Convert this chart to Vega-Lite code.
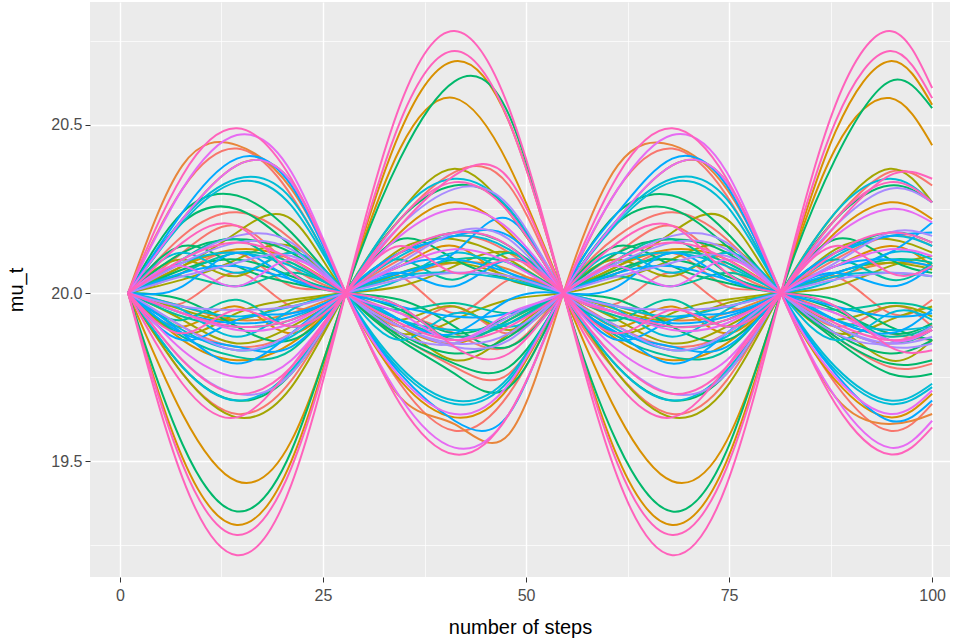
{
"$schema":"https://vega.github.io/schema/vega-lite/v6.json",
"width":860,"height":575,
"autosize":{"type":"none"},
"padding":{"left":90,"top":2,"right":19,"bottom":66},
"background":"white",
"config":{"view":{"fill":"#EBEBEB","stroke":null},"font":"Liberation Sans",
"axis":{"labelColor":"#4D4D4D","labelFontSize":16,"tickColor":"#333333","tickSize":5,"tickWidth":1,"domain":false,"gridColor":"#FFFFFF","gridWidth":1.4,"titleColor":"#000000","titleFontSize":20,"titleFontWeight":"normal","labelPadding":5}},
"data":{"values":[
{"g":1,"x":1,"y":20},{"g":1,"x":7.7,"y":20.31},{"g":1,"x":14.4,"y":20.43},{"g":1,"x":21.1,"y":20.29},{"g":1,"x":27.8,"y":20},{"g":1,"x":34.5,"y":19.73},{"g":1,"x":41.2,"y":19.59},{"g":1,"x":47.9,"y":19.70},{"g":1,"x":54.6,"y":20},{"g":1,"x":61.3,"y":20.31},{"g":1,"x":68,"y":20.43},{"g":1,"x":74.7,"y":20.29},{"g":1,"x":81.4,"y":20},{"g":1,"x":88.1,"y":19.73},{"g":1,"x":94.8,"y":19.59},{"g":1,"x":100,"y":19.67},
{"g":2,"x":1,"y":20},{"g":2,"x":7.7,"y":20.17},{"g":2,"x":14.4,"y":20.24},{"g":2,"x":21.1,"y":20.16},{"g":2,"x":27.8,"y":20},{"g":2,"x":34.5,"y":19.87},{"g":2,"x":41.2,"y":19.78},{"g":2,"x":47.9,"y":19.76},{"g":2,"x":54.6,"y":20},{"g":2,"x":61.3,"y":20.17},{"g":2,"x":68,"y":20.24},{"g":2,"x":74.7,"y":20.16},{"g":2,"x":81.4,"y":20},{"g":2,"x":88.1,"y":19.87},{"g":2,"x":94.8,"y":19.78},{"g":2,"x":100,"y":19.79},
{"g":3,"x":1,"y":20},{"g":3,"x":7.7,"y":19.76},{"g":3,"x":14.4,"y":19.64},{"g":3,"x":21.1,"y":19.74},{"g":3,"x":27.8,"y":20},{"g":3,"x":34.5,"y":20.22},{"g":3,"x":41.2,"y":20.36},{"g":3,"x":47.9,"y":20.32},{"g":3,"x":54.6,"y":20},{"g":3,"x":61.3,"y":19.76},{"g":3,"x":68,"y":19.64},{"g":3,"x":74.7,"y":19.74},{"g":3,"x":81.4,"y":20},{"g":3,"x":88.1,"y":20.22},{"g":3,"x":94.8,"y":20.36},{"g":3,"x":100,"y":20.32},
{"g":4,"x":1,"y":20},{"g":4,"x":7.7,"y":20.12},{"g":4,"x":14.4,"y":20.20},{"g":4,"x":21.1,"y":20.08},{"g":4,"x":27.8,"y":20},{"g":4,"x":34.5,"y":19.94},{"g":4,"x":41.2,"y":19.88},{"g":4,"x":47.9,"y":19.84},{"g":4,"x":54.6,"y":20},{"g":4,"x":61.3,"y":20.12},{"g":4,"x":68,"y":20.20},{"g":4,"x":74.7,"y":20.08},{"g":4,"x":81.4,"y":20},{"g":4,"x":88.1,"y":19.94},{"g":4,"x":94.8,"y":19.88},{"g":4,"x":100,"y":19.86},
{"g":5,"x":1,"y":20},{"g":5,"x":7.7,"y":19.90},{"g":5,"x":14.4,"y":19.84},{"g":5,"x":21.1,"y":19.88},{"g":5,"x":27.8,"y":20},{"g":5,"x":34.5,"y":20.10},{"g":5,"x":41.2,"y":20.17},{"g":5,"x":47.9,"y":20.12},{"g":5,"x":54.6,"y":20},{"g":5,"x":61.3,"y":19.90},{"g":5,"x":68,"y":19.84},{"g":5,"x":74.7,"y":19.88},{"g":5,"x":81.4,"y":20},{"g":5,"x":88.1,"y":20.10},{"g":5,"x":94.8,"y":20.17},{"g":5,"x":100,"y":20.14},
{"g":70,"x":1,"y":20},{"g":70,"x":7.7,"y":19.97},{"g":70,"x":14.4,"y":20.06},{"g":70,"x":21.1,"y":19.96},{"g":70,"x":27.8,"y":20},{"g":70,"x":34.5,"y":20.05},{"g":70,"x":41.2,"y":19.94},{"g":70,"x":47.9,"y":20.04},{"g":70,"x":54.6,"y":20},{"g":70,"x":61.3,"y":19.97},{"g":70,"x":68,"y":20.06},{"g":70,"x":74.7,"y":19.96},{"g":70,"x":81.4,"y":20},{"g":70,"x":88.1,"y":20.05},{"g":70,"x":94.8,"y":19.94},{"g":70,"x":100,"y":19.98},
{"g":54,"x":1,"y":20},{"g":54,"x":7.7,"y":20.06},{"g":54,"x":14.4,"y":20.12},{"g":54,"x":21.1,"y":20.02},{"g":54,"x":27.8,"y":20},{"g":54,"x":34.5,"y":19.90},{"g":54,"x":41.2,"y":19.96},{"g":54,"x":47.9,"y":19.88},{"g":54,"x":54.6,"y":20},{"g":54,"x":61.3,"y":20.06},{"g":54,"x":68,"y":20.12},{"g":54,"x":74.7,"y":20.02},{"g":54,"x":81.4,"y":20},{"g":54,"x":88.1,"y":19.90},{"g":54,"x":94.8,"y":19.96},{"g":54,"x":100,"y":19.90},
{"g":6,"x":1,"y":20},{"g":6,"x":7.7,"y":20.38},{"g":6,"x":14.4,"y":20.44},{"g":6,"x":21.1,"y":20.31},{"g":6,"x":27.8,"y":20},{"g":6,"x":34.5,"y":19.69},{"g":6,"x":41.2,"y":19.61},{"g":6,"x":47.9,"y":19.58},{"g":6,"x":54.6,"y":20},{"g":6,"x":61.3,"y":20.38},{"g":6,"x":68,"y":20.44},{"g":6,"x":74.7,"y":20.31},{"g":6,"x":81.4,"y":20},{"g":6,"x":88.1,"y":19.69},{"g":6,"x":94.8,"y":19.61},{"g":6,"x":100,"y":19.64},
{"g":7,"x":1,"y":20},{"g":7,"x":7.7,"y":19.96},{"g":7,"x":14.4,"y":19.92},{"g":7,"x":21.1,"y":19.94},{"g":7,"x":27.8,"y":20},{"g":7,"x":34.5,"y":20.05},{"g":7,"x":41.2,"y":20.09},{"g":7,"x":47.9,"y":20.07},{"g":7,"x":54.6,"y":20},{"g":7,"x":61.3,"y":19.96},{"g":7,"x":68,"y":19.92},{"g":7,"x":74.7,"y":19.94},{"g":7,"x":81.4,"y":20},{"g":7,"x":88.1,"y":20.05},{"g":7,"x":94.8,"y":20.09},{"g":7,"x":100,"y":20.08},
{"g":8,"x":1,"y":20},{"g":8,"x":7.7,"y":19.51},{"g":8,"x":14.4,"y":19.31},{"g":8,"x":21.1,"y":19.50},{"g":8,"x":27.8,"y":20},{"g":8,"x":34.5,"y":20.48},{"g":8,"x":41.2,"y":20.69},{"g":8,"x":47.9,"y":20.51},{"g":8,"x":54.6,"y":20},{"g":8,"x":61.3,"y":19.51},{"g":8,"x":68,"y":19.31},{"g":8,"x":74.7,"y":19.50},{"g":8,"x":81.4,"y":20},{"g":8,"x":88.1,"y":20.48},{"g":8,"x":94.8,"y":20.69},{"g":8,"x":100,"y":20.56},
{"g":9,"x":1,"y":20},{"g":9,"x":7.7,"y":19.64},{"g":9,"x":14.4,"y":19.44},{"g":9,"x":21.1,"y":19.56},{"g":9,"x":27.8,"y":20},{"g":9,"x":34.5,"y":20.43},{"g":9,"x":41.2,"y":20.58},{"g":9,"x":47.9,"y":20.38},{"g":9,"x":54.6,"y":20},{"g":9,"x":61.3,"y":19.64},{"g":9,"x":68,"y":19.44},{"g":9,"x":74.7,"y":19.56},{"g":9,"x":81.4,"y":20},{"g":9,"x":88.1,"y":20.43},{"g":9,"x":94.8,"y":20.58},{"g":9,"x":100,"y":20.44},
{"g":10,"x":1,"y":20},{"g":10,"x":7.7,"y":20.22},{"g":10,"x":14.4,"y":20.38},{"g":10,"x":21.1,"y":20.33},{"g":10,"x":27.8,"y":20},{"g":10,"x":34.5,"y":19.74},{"g":10,"x":41.2,"y":19.63},{"g":10,"x":47.9,"y":19.72},{"g":10,"x":54.6,"y":20},{"g":10,"x":61.3,"y":20.22},{"g":10,"x":68,"y":20.38},{"g":10,"x":74.7,"y":20.33},{"g":10,"x":81.4,"y":20},{"g":10,"x":88.1,"y":19.74},{"g":10,"x":94.8,"y":19.63},{"g":10,"x":100,"y":19.70},
{"g":11,"x":1,"y":20},{"g":11,"x":7.7,"y":19.86},{"g":11,"x":14.4,"y":19.80},{"g":11,"x":21.1,"y":19.85},{"g":11,"x":27.8,"y":20},{"g":11,"x":34.5,"y":20.18},{"g":11,"x":41.2,"y":20.27},{"g":11,"x":47.9,"y":20.18},{"g":11,"x":54.6,"y":20},{"g":11,"x":61.3,"y":19.86},{"g":11,"x":68,"y":19.80},{"g":11,"x":74.7,"y":19.85},{"g":11,"x":81.4,"y":20},{"g":11,"x":88.1,"y":20.18},{"g":11,"x":94.8,"y":20.27},{"g":11,"x":100,"y":20.22},
{"g":12,"x":1,"y":20},{"g":12,"x":7.7,"y":20.08},{"g":12,"x":14.4,"y":20.13},{"g":12,"x":21.1,"y":20.10},{"g":12,"x":27.8,"y":20},{"g":12,"x":34.5,"y":19.90},{"g":12,"x":41.2,"y":19.85},{"g":12,"x":47.9,"y":19.92},{"g":12,"x":54.6,"y":20},{"g":12,"x":61.3,"y":20.08},{"g":12,"x":68,"y":20.13},{"g":12,"x":74.7,"y":20.10},{"g":12,"x":81.4,"y":20},{"g":12,"x":88.1,"y":19.90},{"g":12,"x":94.8,"y":19.85},{"g":12,"x":100,"y":19.90},
{"g":55,"x":1,"y":20},{"g":55,"x":7.7,"y":19.90},{"g":55,"x":14.4,"y":19.96},{"g":55,"x":21.1,"y":19.88},{"g":55,"x":27.8,"y":20},{"g":55,"x":34.5,"y":20.08},{"g":55,"x":41.2,"y":20.14},{"g":55,"x":47.9,"y":20.04},{"g":55,"x":54.6,"y":20},{"g":55,"x":61.3,"y":19.90},{"g":55,"x":68,"y":19.96},{"g":55,"x":74.7,"y":19.88},{"g":55,"x":81.4,"y":20},{"g":55,"x":88.1,"y":20.08},{"g":55,"x":94.8,"y":20.14},{"g":55,"x":100,"y":20.08},
{"g":13,"x":1,"y":20},{"g":13,"x":7.7,"y":19.76},{"g":13,"x":14.4,"y":19.63},{"g":13,"x":21.1,"y":19.72},{"g":13,"x":27.8,"y":20},{"g":13,"x":34.5,"y":20.24},{"g":13,"x":41.2,"y":20.37},{"g":13,"x":47.9,"y":20.24},{"g":13,"x":54.6,"y":20},{"g":13,"x":61.3,"y":19.76},{"g":13,"x":68,"y":19.63},{"g":13,"x":74.7,"y":19.72},{"g":13,"x":81.4,"y":20},{"g":13,"x":88.1,"y":20.24},{"g":13,"x":94.8,"y":20.37},{"g":13,"x":100,"y":20.27},
{"g":14,"x":1,"y":20},{"g":14,"x":7.7,"y":20.08},{"g":14,"x":14.4,"y":20.18},{"g":14,"x":21.1,"y":20.22},{"g":14,"x":27.8,"y":20},{"g":14,"x":34.5,"y":19.90},{"g":14,"x":41.2,"y":19.80},{"g":14,"x":47.9,"y":19.88},{"g":14,"x":54.6,"y":20},{"g":14,"x":61.3,"y":20.08},{"g":14,"x":68,"y":20.18},{"g":14,"x":74.7,"y":20.22},{"g":14,"x":81.4,"y":20},{"g":14,"x":88.1,"y":19.90},{"g":14,"x":94.8,"y":19.80},{"g":14,"x":100,"y":19.86},
{"g":15,"x":1,"y":20},{"g":15,"x":7.7,"y":19.95},{"g":15,"x":14.4,"y":19.92},{"g":15,"x":21.1,"y":19.97},{"g":15,"x":27.8,"y":20},{"g":15,"x":34.5,"y":20.06},{"g":15,"x":41.2,"y":20.09},{"g":15,"x":47.9,"y":20.05},{"g":15,"x":54.6,"y":20},{"g":15,"x":61.3,"y":19.95},{"g":15,"x":68,"y":19.92},{"g":15,"x":74.7,"y":19.97},{"g":15,"x":81.4,"y":20},{"g":15,"x":88.1,"y":20.06},{"g":15,"x":94.8,"y":20.09},{"g":15,"x":100,"y":20.07},
{"g":16,"x":1,"y":20},{"g":16,"x":7.7,"y":20.10},{"g":16,"x":14.4,"y":20.05},{"g":16,"x":21.1,"y":20.12},{"g":16,"x":27.8,"y":20},{"g":16,"x":34.5,"y":19.92},{"g":16,"x":41.2,"y":19.96},{"g":16,"x":47.9,"y":19.89},{"g":16,"x":54.6,"y":20},{"g":16,"x":61.3,"y":20.10},{"g":16,"x":68,"y":20.05},{"g":16,"x":74.7,"y":20.12},{"g":16,"x":81.4,"y":20},{"g":16,"x":88.1,"y":19.92},{"g":16,"x":94.8,"y":19.96},{"g":16,"x":100,"y":19.93},
{"g":17,"x":1,"y":20},{"g":17,"x":7.7,"y":19.92},{"g":17,"x":14.4,"y":19.85},{"g":17,"x":21.1,"y":19.90},{"g":17,"x":27.8,"y":20},{"g":17,"x":34.5,"y":20.13},{"g":17,"x":41.2,"y":20.16},{"g":17,"x":47.9,"y":20.10},{"g":17,"x":54.6,"y":20},{"g":17,"x":61.3,"y":19.92},{"g":17,"x":68,"y":19.85},{"g":17,"x":74.7,"y":19.90},{"g":17,"x":81.4,"y":20},{"g":17,"x":88.1,"y":20.13},{"g":17,"x":94.8,"y":20.16},{"g":17,"x":100,"y":20.12},
{"g":56,"x":1,"y":20},{"g":56,"x":7.7,"y":20.04},{"g":56,"x":14.4,"y":20.10},{"g":56,"x":21.1,"y":20.14},{"g":56,"x":27.8,"y":20},{"g":56,"x":34.5,"y":19.88},{"g":56,"x":41.2,"y":19.92},{"g":56,"x":47.9,"y":19.98},{"g":56,"x":54.6,"y":20},{"g":56,"x":61.3,"y":20.04},{"g":56,"x":68,"y":20.10},{"g":56,"x":74.7,"y":20.14},{"g":56,"x":81.4,"y":20},{"g":56,"x":88.1,"y":19.88},{"g":56,"x":94.8,"y":19.92},{"g":56,"x":100,"y":19.96},
{"g":57,"x":1,"y":20},{"g":57,"x":7.7,"y":19.88},{"g":57,"x":14.4,"y":19.94},{"g":57,"x":21.1,"y":19.98},{"g":57,"x":27.8,"y":20},{"g":57,"x":34.5,"y":20.02},{"g":57,"x":41.2,"y":20.08},{"g":57,"x":47.9,"y":20.12},{"g":57,"x":54.6,"y":20},{"g":57,"x":61.3,"y":19.88},{"g":57,"x":68,"y":19.94},{"g":57,"x":74.7,"y":19.98},{"g":57,"x":81.4,"y":20},{"g":57,"x":88.1,"y":20.02},{"g":57,"x":94.8,"y":20.08},{"g":57,"x":100,"y":20.11},
{"g":18,"x":1,"y":20},{"g":18,"x":7.7,"y":19.55},{"g":18,"x":14.4,"y":19.35},{"g":18,"x":21.1,"y":19.53},{"g":18,"x":27.8,"y":20},{"g":18,"x":34.5,"y":20.40},{"g":18,"x":41.2,"y":20.63},{"g":18,"x":47.9,"y":20.53},{"g":18,"x":54.6,"y":20},{"g":18,"x":61.3,"y":19.55},{"g":18,"x":68,"y":19.35},{"g":18,"x":74.7,"y":19.53},{"g":18,"x":81.4,"y":20},{"g":18,"x":88.1,"y":20.40},{"g":18,"x":94.8,"y":20.63},{"g":18,"x":100,"y":20.55},
{"g":19,"x":1,"y":20},{"g":19,"x":7.7,"y":20.24},{"g":19,"x":14.4,"y":20.29},{"g":19,"x":21.1,"y":20.18},{"g":19,"x":27.8,"y":20},{"g":19,"x":34.5,"y":19.86},{"g":19,"x":41.2,"y":19.76},{"g":19,"x":47.9,"y":19.72},{"g":19,"x":54.6,"y":20},{"g":19,"x":61.3,"y":20.24},{"g":19,"x":68,"y":20.29},{"g":19,"x":74.7,"y":20.18},{"g":19,"x":81.4,"y":20},{"g":19,"x":88.1,"y":19.86},{"g":19,"x":94.8,"y":19.76},{"g":19,"x":100,"y":19.76},
{"g":20,"x":1,"y":20},{"g":20,"x":7.7,"y":20.21},{"g":20,"x":14.4,"y":20.25},{"g":20,"x":21.1,"y":20.14},{"g":20,"x":27.8,"y":20},{"g":20,"x":34.5,"y":19.87},{"g":20,"x":41.2,"y":19.79},{"g":20,"x":47.9,"y":19.78},{"g":20,"x":54.6,"y":20},{"g":20,"x":61.3,"y":20.21},{"g":20,"x":68,"y":20.25},{"g":20,"x":74.7,"y":20.14},{"g":20,"x":81.4,"y":20},{"g":20,"x":88.1,"y":19.87},{"g":20,"x":94.8,"y":19.79},{"g":20,"x":100,"y":19.80},
{"g":21,"x":1,"y":20},{"g":21,"x":7.7,"y":19.78},{"g":21,"x":14.4,"y":19.68},{"g":21,"x":21.1,"y":19.76},{"g":21,"x":27.8,"y":20},{"g":21,"x":34.5,"y":20.22},{"g":21,"x":41.2,"y":20.32},{"g":21,"x":47.9,"y":20.25},{"g":21,"x":54.6,"y":20},{"g":21,"x":61.3,"y":19.78},{"g":21,"x":68,"y":19.68},{"g":21,"x":74.7,"y":19.76},{"g":21,"x":81.4,"y":20},{"g":21,"x":88.1,"y":20.22},{"g":21,"x":94.8,"y":20.32},{"g":21,"x":100,"y":20.27},
{"g":22,"x":1,"y":20},{"g":22,"x":7.7,"y":20.12},{"g":22,"x":14.4,"y":20.16},{"g":22,"x":21.1,"y":20.12},{"g":22,"x":27.8,"y":20},{"g":22,"x":34.5,"y":19.88},{"g":22,"x":41.2,"y":19.82},{"g":22,"x":47.9,"y":19.87},{"g":22,"x":54.6,"y":20},{"g":22,"x":61.3,"y":20.12},{"g":22,"x":68,"y":20.16},{"g":22,"x":74.7,"y":20.12},{"g":22,"x":81.4,"y":20},{"g":22,"x":88.1,"y":19.88},{"g":22,"x":94.8,"y":19.82},{"g":22,"x":100,"y":19.86},
{"g":23,"x":1,"y":20},{"g":23,"x":7.7,"y":20.07},{"g":23,"x":14.4,"y":20.10},{"g":23,"x":21.1,"y":20.05},{"g":23,"x":27.8,"y":20},{"g":23,"x":34.5,"y":19.95},{"g":23,"x":41.2,"y":19.88},{"g":23,"x":47.9,"y":19.93},{"g":23,"x":54.6,"y":20},{"g":23,"x":61.3,"y":20.07},{"g":23,"x":68,"y":20.10},{"g":23,"x":74.7,"y":20.05},{"g":23,"x":81.4,"y":20},{"g":23,"x":88.1,"y":19.95},{"g":23,"x":94.8,"y":19.88},{"g":23,"x":100,"y":19.91},
{"g":58,"x":1,"y":20},{"g":58,"x":7.7,"y":20.14},{"g":58,"x":14.4,"y":20.08},{"g":58,"x":21.1,"y":20.03},{"g":58,"x":27.8,"y":20},{"g":58,"x":34.5,"y":19.98},{"g":58,"x":41.2,"y":19.90},{"g":58,"x":47.9,"y":19.84},{"g":58,"x":54.6,"y":20},{"g":58,"x":61.3,"y":20.14},{"g":58,"x":68,"y":20.08},{"g":58,"x":74.7,"y":20.03},{"g":58,"x":81.4,"y":20},{"g":58,"x":88.1,"y":19.98},{"g":58,"x":94.8,"y":19.90},{"g":58,"x":100,"y":19.86},
{"g":59,"x":1,"y":20},{"g":59,"x":7.7,"y":19.98},{"g":59,"x":14.4,"y":19.90},{"g":59,"x":21.1,"y":19.86},{"g":59,"x":27.8,"y":20},{"g":59,"x":34.5,"y":20.16},{"g":59,"x":41.2,"y":20.10},{"g":59,"x":47.9,"y":20.04},{"g":59,"x":54.6,"y":20},{"g":59,"x":61.3,"y":19.98},{"g":59,"x":68,"y":19.90},{"g":59,"x":74.7,"y":19.86},{"g":59,"x":81.4,"y":20},{"g":59,"x":88.1,"y":20.16},{"g":59,"x":94.8,"y":20.10},{"g":59,"x":100,"y":20.06},
{"g":24,"x":1,"y":20},{"g":24,"x":7.7,"y":19.87},{"g":24,"x":14.4,"y":19.81},{"g":24,"x":21.1,"y":19.83},{"g":24,"x":27.8,"y":20},{"g":24,"x":34.5,"y":20.12},{"g":24,"x":41.2,"y":20.18},{"g":24,"x":47.9,"y":20.14},{"g":24,"x":54.6,"y":20},{"g":24,"x":61.3,"y":19.87},{"g":24,"x":68,"y":19.81},{"g":24,"x":74.7,"y":19.83},{"g":24,"x":81.4,"y":20},{"g":24,"x":88.1,"y":20.12},{"g":24,"x":94.8,"y":20.18},{"g":24,"x":100,"y":20.15},
{"g":25,"x":1,"y":20},{"g":25,"x":7.7,"y":19.93},{"g":25,"x":14.4,"y":19.90},{"g":25,"x":21.1,"y":19.92},{"g":25,"x":27.8,"y":20},{"g":25,"x":34.5,"y":20.06},{"g":25,"x":41.2,"y":20.10},{"g":25,"x":47.9,"y":20.09},{"g":25,"x":54.6,"y":20},{"g":25,"x":61.3,"y":19.93},{"g":25,"x":68,"y":19.90},{"g":25,"x":74.7,"y":19.92},{"g":25,"x":81.4,"y":20},{"g":25,"x":88.1,"y":20.06},{"g":25,"x":94.8,"y":20.10},{"g":25,"x":100,"y":20.09},
{"g":26,"x":1,"y":20},{"g":26,"x":7.7,"y":20.05},{"g":26,"x":14.4,"y":20.02},{"g":26,"x":21.1,"y":20.06},{"g":26,"x":27.8,"y":20},{"g":26,"x":34.5,"y":19.95},{"g":26,"x":41.2,"y":19.97},{"g":26,"x":47.9,"y":19.94},{"g":26,"x":54.6,"y":20},{"g":26,"x":61.3,"y":20.05},{"g":26,"x":68,"y":20.02},{"g":26,"x":74.7,"y":20.06},{"g":26,"x":81.4,"y":20},{"g":26,"x":88.1,"y":19.95},{"g":26,"x":94.8,"y":19.97},{"g":26,"x":100,"y":19.95},
{"g":27,"x":1,"y":20},{"g":27,"x":7.7,"y":20.06},{"g":27,"x":14.4,"y":20.12},{"g":27,"x":21.1,"y":20.09},{"g":27,"x":27.8,"y":20},{"g":27,"x":34.5,"y":19.92},{"g":27,"x":41.2,"y":19.87},{"g":27,"x":47.9,"y":19.91},{"g":27,"x":54.6,"y":20},{"g":27,"x":61.3,"y":20.06},{"g":27,"x":68,"y":20.12},{"g":27,"x":74.7,"y":20.09},{"g":27,"x":81.4,"y":20},{"g":27,"x":88.1,"y":19.92},{"g":27,"x":94.8,"y":19.87},{"g":27,"x":100,"y":19.90},
{"g":60,"x":1,"y":20},{"g":60,"x":7.7,"y":20.10},{"g":60,"x":14.4,"y":20.16},{"g":60,"x":21.1,"y":20.06},{"g":60,"x":27.8,"y":20},{"g":60,"x":34.5,"y":19.96},{"g":60,"x":41.2,"y":19.86},{"g":60,"x":47.9,"y":19.92},{"g":60,"x":54.6,"y":20},{"g":60,"x":61.3,"y":20.10},{"g":60,"x":68,"y":20.16},{"g":60,"x":74.7,"y":20.06},{"g":60,"x":81.4,"y":20},{"g":60,"x":88.1,"y":19.96},{"g":60,"x":94.8,"y":19.86},{"g":60,"x":100,"y":19.89},
{"g":61,"x":1,"y":20},{"g":61,"x":7.7,"y":19.92},{"g":61,"x":14.4,"y":19.98},{"g":61,"x":21.1,"y":19.90},{"g":61,"x":27.8,"y":20},{"g":61,"x":34.5,"y":20.10},{"g":61,"x":41.2,"y":20.04},{"g":61,"x":47.9,"y":20.12},{"g":61,"x":54.6,"y":20},{"g":61,"x":61.3,"y":19.92},{"g":61,"x":68,"y":19.98},{"g":61,"x":74.7,"y":19.90},{"g":61,"x":81.4,"y":20},{"g":61,"x":88.1,"y":20.10},{"g":61,"x":94.8,"y":20.04},{"g":61,"x":100,"y":20.09},
{"g":28,"x":1,"y":20},{"g":28,"x":7.7,"y":20.22},{"g":28,"x":14.4,"y":20.34},{"g":28,"x":21.1,"y":20.28},{"g":28,"x":27.8,"y":20},{"g":28,"x":34.5,"y":19.77},{"g":28,"x":41.2,"y":19.67},{"g":28,"x":47.9,"y":19.74},{"g":28,"x":54.6,"y":20},{"g":28,"x":61.3,"y":20.22},{"g":28,"x":68,"y":20.34},{"g":28,"x":74.7,"y":20.28},{"g":28,"x":81.4,"y":20},{"g":28,"x":88.1,"y":19.77},{"g":28,"x":94.8,"y":19.67},{"g":28,"x":100,"y":19.72},
{"g":29,"x":1,"y":20},{"g":29,"x":7.7,"y":20.21},{"g":29,"x":14.4,"y":20.33},{"g":29,"x":21.1,"y":20.26},{"g":29,"x":27.8,"y":20},{"g":29,"x":34.5,"y":19.78},{"g":29,"x":41.2,"y":19.68},{"g":29,"x":47.9,"y":19.75},{"g":29,"x":54.6,"y":20},{"g":29,"x":61.3,"y":20.21},{"g":29,"x":68,"y":20.33},{"g":29,"x":74.7,"y":20.26},{"g":29,"x":81.4,"y":20},{"g":29,"x":88.1,"y":19.78},{"g":29,"x":94.8,"y":19.68},{"g":29,"x":100,"y":19.73},
{"g":30,"x":1,"y":20},{"g":30,"x":7.7,"y":19.78},{"g":30,"x":14.4,"y":19.68},{"g":30,"x":21.1,"y":19.77},{"g":30,"x":27.8,"y":20},{"g":30,"x":34.5,"y":20.24},{"g":30,"x":41.2,"y":20.34},{"g":30,"x":47.9,"y":20.25},{"g":30,"x":54.6,"y":20},{"g":30,"x":61.3,"y":19.78},{"g":30,"x":68,"y":19.68},{"g":30,"x":74.7,"y":19.77},{"g":30,"x":81.4,"y":20},{"g":30,"x":88.1,"y":20.24},{"g":30,"x":94.8,"y":20.34},{"g":30,"x":100,"y":20.27},
{"g":31,"x":1,"y":20},{"g":31,"x":7.7,"y":20.09},{"g":31,"x":14.4,"y":20.12},{"g":31,"x":21.1,"y":20.08},{"g":31,"x":27.8,"y":20},{"g":31,"x":34.5,"y":19.92},{"g":31,"x":41.2,"y":19.89},{"g":31,"x":47.9,"y":19.91},{"g":31,"x":54.6,"y":20},{"g":31,"x":61.3,"y":20.09},{"g":31,"x":68,"y":20.12},{"g":31,"x":74.7,"y":20.08},{"g":31,"x":81.4,"y":20},{"g":31,"x":88.1,"y":19.92},{"g":31,"x":94.8,"y":19.89},{"g":31,"x":100,"y":19.90},
{"g":32,"x":1,"y":20},{"g":32,"x":7.7,"y":19.89},{"g":32,"x":14.4,"y":19.83},{"g":32,"x":21.1,"y":19.87},{"g":32,"x":27.8,"y":20},{"g":32,"x":34.5,"y":20.11},{"g":32,"x":41.2,"y":20.17},{"g":32,"x":47.9,"y":20.13},{"g":32,"x":54.6,"y":20},{"g":32,"x":61.3,"y":19.89},{"g":32,"x":68,"y":19.83},{"g":32,"x":74.7,"y":19.87},{"g":32,"x":81.4,"y":20},{"g":32,"x":88.1,"y":20.11},{"g":32,"x":94.8,"y":20.17},{"g":32,"x":100,"y":20.14},
{"g":33,"x":1,"y":20},{"g":33,"x":7.7,"y":19.96},{"g":33,"x":14.4,"y":19.93},{"g":33,"x":21.1,"y":19.96},{"g":33,"x":27.8,"y":20},{"g":33,"x":34.5,"y":20.05},{"g":33,"x":41.2,"y":20.06},{"g":33,"x":47.9,"y":20.04},{"g":33,"x":54.6,"y":20},{"g":33,"x":61.3,"y":19.96},{"g":33,"x":68,"y":19.93},{"g":33,"x":74.7,"y":19.96},{"g":33,"x":81.4,"y":20},{"g":33,"x":88.1,"y":20.05},{"g":33,"x":94.8,"y":20.06},{"g":33,"x":100,"y":20.05},
{"g":62,"x":1,"y":20},{"g":62,"x":7.7,"y":20.12},{"g":62,"x":14.4,"y":20.06},{"g":62,"x":21.1,"y":20.12},{"g":62,"x":27.8,"y":20},{"g":62,"x":34.5,"y":19.86},{"g":62,"x":41.2,"y":19.94},{"g":62,"x":47.9,"y":19.90},{"g":62,"x":54.6,"y":20},{"g":62,"x":61.3,"y":20.12},{"g":62,"x":68,"y":20.06},{"g":62,"x":74.7,"y":20.12},{"g":62,"x":81.4,"y":20},{"g":62,"x":88.1,"y":19.86},{"g":62,"x":94.8,"y":19.94},{"g":62,"x":100,"y":19.92},
{"g":63,"x":1,"y":20},{"g":63,"x":7.7,"y":19.95},{"g":63,"x":14.4,"y":19.87},{"g":63,"x":21.1,"y":19.95},{"g":63,"x":27.8,"y":20},{"g":63,"x":34.5,"y":20.04},{"g":63,"x":41.2,"y":20.12},{"g":63,"x":47.9,"y":20.06},{"g":63,"x":54.6,"y":20},{"g":63,"x":61.3,"y":19.95},{"g":63,"x":68,"y":19.87},{"g":63,"x":74.7,"y":19.95},{"g":63,"x":81.4,"y":20},{"g":63,"x":88.1,"y":20.04},{"g":63,"x":94.8,"y":20.12},{"g":63,"x":100,"y":20.10},
{"g":34,"x":1,"y":20},{"g":34,"x":7.7,"y":20.24},{"g":34,"x":14.4,"y":20.40},{"g":34,"x":21.1,"y":20.32},{"g":34,"x":27.8,"y":20},{"g":34,"x":34.5,"y":19.76},{"g":34,"x":41.2,"y":19.62},{"g":34,"x":47.9,"y":19.64},{"g":34,"x":54.6,"y":20},{"g":34,"x":61.3,"y":20.24},{"g":34,"x":68,"y":20.40},{"g":34,"x":74.7,"y":20.32},{"g":34,"x":81.4,"y":20},{"g":34,"x":88.1,"y":19.76},{"g":34,"x":94.8,"y":19.62},{"g":34,"x":100,"y":19.68},
{"g":35,"x":1,"y":20},{"g":35,"x":7.7,"y":19.88},{"g":35,"x":14.4,"y":19.79},{"g":35,"x":21.1,"y":19.88},{"g":35,"x":27.8,"y":20},{"g":35,"x":34.5,"y":20.06},{"g":35,"x":41.2,"y":20.12},{"g":35,"x":47.9,"y":20.22},{"g":35,"x":54.6,"y":20},{"g":35,"x":61.3,"y":19.88},{"g":35,"x":68,"y":19.79},{"g":35,"x":74.7,"y":19.88},{"g":35,"x":81.4,"y":20},{"g":35,"x":88.1,"y":20.06},{"g":35,"x":94.8,"y":20.12},{"g":35,"x":100,"y":20.21},
{"g":36,"x":1,"y":20},{"g":36,"x":7.7,"y":20.06},{"g":36,"x":14.4,"y":20.08},{"g":36,"x":21.1,"y":20.04},{"g":36,"x":27.8,"y":20},{"g":36,"x":34.5,"y":19.96},{"g":36,"x":41.2,"y":19.93},{"g":36,"x":47.9,"y":19.94},{"g":36,"x":54.6,"y":20},{"g":36,"x":61.3,"y":20.06},{"g":36,"x":68,"y":20.08},{"g":36,"x":74.7,"y":20.04},{"g":36,"x":81.4,"y":20},{"g":36,"x":88.1,"y":19.96},{"g":36,"x":94.8,"y":19.93},{"g":36,"x":100,"y":19.94},
{"g":37,"x":1,"y":20},{"g":37,"x":7.7,"y":19.94},{"g":37,"x":14.4,"y":19.91},{"g":37,"x":21.1,"y":19.93},{"g":37,"x":27.8,"y":20},{"g":37,"x":34.5,"y":20.08},{"g":37,"x":41.2,"y":20.10},{"g":37,"x":47.9,"y":20.06},{"g":37,"x":54.6,"y":20},{"g":37,"x":61.3,"y":19.94},{"g":37,"x":68,"y":19.91},{"g":37,"x":74.7,"y":19.93},{"g":37,"x":81.4,"y":20},{"g":37,"x":88.1,"y":20.08},{"g":37,"x":94.8,"y":20.10},{"g":37,"x":100,"y":20.08},
{"g":38,"x":1,"y":20},{"g":38,"x":7.7,"y":19.88},{"g":38,"x":14.4,"y":19.84},{"g":38,"x":21.1,"y":19.84},{"g":38,"x":27.8,"y":20},{"g":38,"x":34.5,"y":20.12},{"g":38,"x":41.2,"y":20.17},{"g":38,"x":47.9,"y":20.17},{"g":38,"x":54.6,"y":20},{"g":38,"x":61.3,"y":19.88},{"g":38,"x":68,"y":19.84},{"g":38,"x":74.7,"y":19.84},{"g":38,"x":81.4,"y":20},{"g":38,"x":88.1,"y":20.12},{"g":38,"x":94.8,"y":20.17},{"g":38,"x":100,"y":20.18},
{"g":64,"x":1,"y":20},{"g":64,"x":7.7,"y":20.02},{"g":64,"x":14.4,"y":20.12},{"g":64,"x":21.1,"y":20.04},{"g":64,"x":27.8,"y":20},{"g":64,"x":34.5,"y":19.92},{"g":64,"x":41.2,"y":19.88},{"g":64,"x":47.9,"y":19.98},{"g":64,"x":54.6,"y":20},{"g":64,"x":61.3,"y":20.02},{"g":64,"x":68,"y":20.12},{"g":64,"x":74.7,"y":20.04},{"g":64,"x":81.4,"y":20},{"g":64,"x":88.1,"y":19.92},{"g":64,"x":94.8,"y":19.88},{"g":64,"x":100,"y":19.95},
{"g":65,"x":1,"y":20},{"g":65,"x":7.7,"y":19.86},{"g":65,"x":14.4,"y":19.92},{"g":65,"x":21.1,"y":19.94},{"g":65,"x":27.8,"y":20},{"g":65,"x":34.5,"y":20.06},{"g":65,"x":41.2,"y":20.02},{"g":65,"x":47.9,"y":20.10},{"g":65,"x":54.6,"y":20},{"g":65,"x":61.3,"y":19.86},{"g":65,"x":68,"y":19.92},{"g":65,"x":74.7,"y":19.94},{"g":65,"x":81.4,"y":20},{"g":65,"x":88.1,"y":20.06},{"g":65,"x":94.8,"y":20.02},{"g":65,"x":100,"y":20.08},
{"g":39,"x":1,"y":20},{"g":39,"x":7.7,"y":19.80},{"g":39,"x":14.4,"y":19.70},{"g":39,"x":21.1,"y":19.76},{"g":39,"x":27.8,"y":20},{"g":39,"x":34.5,"y":20.20},{"g":39,"x":41.2,"y":20.31},{"g":39,"x":47.9,"y":20.26},{"g":39,"x":54.6,"y":20},{"g":39,"x":61.3,"y":19.80},{"g":39,"x":68,"y":19.70},{"g":39,"x":74.7,"y":19.76},{"g":39,"x":81.4,"y":20},{"g":39,"x":88.1,"y":20.20},{"g":39,"x":94.8,"y":20.31},{"g":39,"x":100,"y":20.27},
{"g":40,"x":1,"y":20},{"g":40,"x":7.7,"y":20.10},{"g":40,"x":14.4,"y":20.17},{"g":40,"x":21.1,"y":20.15},{"g":40,"x":27.8,"y":20},{"g":40,"x":34.5,"y":19.90},{"g":40,"x":41.2,"y":19.84},{"g":40,"x":47.9,"y":19.86},{"g":40,"x":54.6,"y":20},{"g":40,"x":61.3,"y":20.10},{"g":40,"x":68,"y":20.17},{"g":40,"x":74.7,"y":20.15},{"g":40,"x":81.4,"y":20},{"g":40,"x":88.1,"y":19.90},{"g":40,"x":94.8,"y":19.84},{"g":40,"x":100,"y":19.85},
{"g":41,"x":1,"y":20},{"g":41,"x":7.7,"y":20.09},{"g":41,"x":14.4,"y":20.15},{"g":41,"x":21.1,"y":20.13},{"g":41,"x":27.8,"y":20},{"g":41,"x":34.5,"y":19.90},{"g":41,"x":41.2,"y":19.85},{"g":41,"x":47.9,"y":19.88},{"g":41,"x":54.6,"y":20},{"g":41,"x":61.3,"y":20.09},{"g":41,"x":68,"y":20.15},{"g":41,"x":74.7,"y":20.13},{"g":41,"x":81.4,"y":20},{"g":41,"x":88.1,"y":19.90},{"g":41,"x":94.8,"y":19.85},{"g":41,"x":100,"y":19.87},
{"g":42,"x":1,"y":20},{"g":42,"x":7.7,"y":19.96},{"g":42,"x":14.4,"y":19.95},{"g":42,"x":21.1,"y":19.96},{"g":42,"x":27.8,"y":20},{"g":42,"x":34.5,"y":20.04},{"g":42,"x":41.2,"y":20.06},{"g":42,"x":47.9,"y":20.05},{"g":42,"x":54.6,"y":20},{"g":42,"x":61.3,"y":19.96},{"g":42,"x":68,"y":19.95},{"g":42,"x":74.7,"y":19.96},{"g":42,"x":81.4,"y":20},{"g":42,"x":88.1,"y":20.04},{"g":42,"x":94.8,"y":20.06},{"g":42,"x":100,"y":20.05},
{"g":66,"x":1,"y":20},{"g":66,"x":7.7,"y":20.05},{"g":66,"x":14.4,"y":20.09},{"g":66,"x":21.1,"y":20.11},{"g":66,"x":27.8,"y":20},{"g":66,"x":34.5,"y":19.88},{"g":66,"x":41.2,"y":19.85},{"g":66,"x":47.9,"y":19.93},{"g":66,"x":54.6,"y":20},{"g":66,"x":61.3,"y":20.05},{"g":66,"x":68,"y":20.09},{"g":66,"x":74.7,"y":20.11},{"g":66,"x":81.4,"y":20},{"g":66,"x":88.1,"y":19.88},{"g":66,"x":94.8,"y":19.85},{"g":66,"x":100,"y":19.90},
{"g":67,"x":1,"y":20},{"g":67,"x":7.7,"y":19.90},{"g":67,"x":14.4,"y":19.83},{"g":67,"x":21.1,"y":19.88},{"g":67,"x":27.8,"y":20},{"g":67,"x":34.5,"y":20.09},{"g":67,"x":41.2,"y":20.18},{"g":67,"x":47.9,"y":20.16},{"g":67,"x":54.6,"y":20},{"g":67,"x":61.3,"y":19.90},{"g":67,"x":68,"y":19.83},{"g":67,"x":74.7,"y":19.88},{"g":67,"x":81.4,"y":20},{"g":67,"x":88.1,"y":20.09},{"g":67,"x":94.8,"y":20.18},{"g":67,"x":100,"y":20.17},
{"g":43,"x":1,"y":20},{"g":43,"x":7.7,"y":20.31},{"g":43,"x":14.4,"y":20.47},{"g":43,"x":21.1,"y":20.36},{"g":43,"x":27.8,"y":20},{"g":43,"x":34.5,"y":19.69},{"g":43,"x":41.2,"y":19.54},{"g":43,"x":47.9,"y":19.64},{"g":43,"x":54.6,"y":20},{"g":43,"x":61.3,"y":20.31},{"g":43,"x":68,"y":20.47},{"g":43,"x":74.7,"y":20.36},{"g":43,"x":81.4,"y":20},{"g":43,"x":88.1,"y":19.69},{"g":43,"x":94.8,"y":19.54},{"g":43,"x":100,"y":19.62},
{"g":44,"x":1,"y":20},{"g":44,"x":7.7,"y":20.22},{"g":44,"x":14.4,"y":20.38},{"g":44,"x":21.1,"y":20.33},{"g":44,"x":27.8,"y":20},{"g":44,"x":34.5,"y":19.75},{"g":44,"x":41.2,"y":19.64},{"g":44,"x":47.9,"y":19.73},{"g":44,"x":54.6,"y":20},{"g":44,"x":61.3,"y":20.22},{"g":44,"x":68,"y":20.38},{"g":44,"x":74.7,"y":20.33},{"g":44,"x":81.4,"y":20},{"g":44,"x":88.1,"y":19.75},{"g":44,"x":94.8,"y":19.64},{"g":44,"x":100,"y":19.71},
{"g":45,"x":1,"y":20},{"g":45,"x":7.7,"y":19.83},{"g":45,"x":14.4,"y":19.75},{"g":45,"x":21.1,"y":19.80},{"g":45,"x":27.8,"y":20},{"g":45,"x":34.5,"y":20.17},{"g":45,"x":41.2,"y":20.25},{"g":45,"x":47.9,"y":20.19},{"g":45,"x":54.6,"y":20},{"g":45,"x":61.3,"y":19.83},{"g":45,"x":68,"y":19.75},{"g":45,"x":74.7,"y":19.80},{"g":45,"x":81.4,"y":20},{"g":45,"x":88.1,"y":20.17},{"g":45,"x":94.8,"y":20.25},{"g":45,"x":100,"y":20.21},
{"g":46,"x":1,"y":20},{"g":46,"x":7.7,"y":19.94},{"g":46,"x":14.4,"y":19.89},{"g":46,"x":21.1,"y":19.91},{"g":46,"x":27.8,"y":20},{"g":46,"x":34.5,"y":20.08},{"g":46,"x":41.2,"y":20.13},{"g":46,"x":47.9,"y":20.09},{"g":46,"x":54.6,"y":20},{"g":46,"x":61.3,"y":19.94},{"g":46,"x":68,"y":19.89},{"g":46,"x":74.7,"y":19.91},{"g":46,"x":81.4,"y":20},{"g":46,"x":88.1,"y":20.08},{"g":46,"x":94.8,"y":20.13},{"g":46,"x":100,"y":20.11},
{"g":68,"x":1,"y":20},{"g":68,"x":7.7,"y":20.08},{"g":68,"x":14.4,"y":20.02},{"g":68,"x":21.1,"y":20.10},{"g":68,"x":27.8,"y":20},{"g":68,"x":34.5,"y":19.94},{"g":68,"x":41.2,"y":19.86},{"g":68,"x":47.9,"y":19.94},{"g":68,"x":54.6,"y":20},{"g":68,"x":61.3,"y":20.08},{"g":68,"x":68,"y":20.02},{"g":68,"x":74.7,"y":20.10},{"g":68,"x":81.4,"y":20},{"g":68,"x":88.1,"y":19.94},{"g":68,"x":94.8,"y":19.86},{"g":68,"x":100,"y":19.89},
{"g":47,"x":1,"y":20},{"g":47,"x":7.7,"y":19.45},{"g":47,"x":14.4,"y":19.22},{"g":47,"x":21.1,"y":19.43},{"g":47,"x":27.8,"y":20},{"g":47,"x":34.5,"y":20.56},{"g":47,"x":41.2,"y":20.78},{"g":47,"x":47.9,"y":20.55},{"g":47,"x":54.6,"y":20},{"g":47,"x":61.3,"y":19.45},{"g":47,"x":68,"y":19.22},{"g":47,"x":74.7,"y":19.43},{"g":47,"x":81.4,"y":20},{"g":47,"x":88.1,"y":20.56},{"g":47,"x":94.8,"y":20.78},{"g":47,"x":100,"y":20.61},
{"g":48,"x":1,"y":20},{"g":48,"x":7.7,"y":19.49},{"g":48,"x":14.4,"y":19.28},{"g":48,"x":21.1,"y":19.48},{"g":48,"x":27.8,"y":20},{"g":48,"x":34.5,"y":20.51},{"g":48,"x":41.2,"y":20.72},{"g":48,"x":47.9,"y":20.51},{"g":48,"x":54.6,"y":20},{"g":48,"x":61.3,"y":19.49},{"g":48,"x":68,"y":19.28},{"g":48,"x":74.7,"y":19.48},{"g":48,"x":81.4,"y":20},{"g":48,"x":88.1,"y":20.51},{"g":48,"x":94.8,"y":20.72},{"g":48,"x":100,"y":20.58},
{"g":49,"x":1,"y":20},{"g":49,"x":7.7,"y":20.35},{"g":49,"x":14.4,"y":20.49},{"g":49,"x":21.1,"y":20.34},{"g":49,"x":27.8,"y":20},{"g":49,"x":34.5,"y":19.67},{"g":49,"x":41.2,"y":19.52},{"g":49,"x":47.9,"y":19.64},{"g":49,"x":54.6,"y":20},{"g":49,"x":61.3,"y":20.35},{"g":49,"x":68,"y":20.49},{"g":49,"x":74.7,"y":20.34},{"g":49,"x":81.4,"y":20},{"g":49,"x":88.1,"y":19.67},{"g":49,"x":94.8,"y":19.52},{"g":49,"x":100,"y":19.60},
{"g":50,"x":1,"y":20},{"g":50,"x":7.7,"y":19.73},{"g":50,"x":14.4,"y":19.63},{"g":50,"x":21.1,"y":19.78},{"g":50,"x":27.8,"y":20},{"g":50,"x":34.5,"y":20.20},{"g":50,"x":41.2,"y":20.35},{"g":50,"x":47.9,"y":20.34},{"g":50,"x":54.6,"y":20},{"g":50,"x":61.3,"y":19.73},{"g":50,"x":68,"y":19.63},{"g":50,"x":74.7,"y":19.78},{"g":50,"x":81.4,"y":20},{"g":50,"x":88.1,"y":20.20},{"g":50,"x":94.8,"y":20.35},{"g":50,"x":100,"y":20.34},
{"g":51,"x":1,"y":20},{"g":51,"x":7.7,"y":19.94},{"g":51,"x":14.4,"y":19.90},{"g":51,"x":21.1,"y":19.92},{"g":51,"x":27.8,"y":20},{"g":51,"x":34.5,"y":20.12},{"g":51,"x":41.2,"y":20.18},{"g":51,"x":47.9,"y":20.14},{"g":51,"x":54.6,"y":20},{"g":51,"x":61.3,"y":19.94},{"g":51,"x":68,"y":19.90},{"g":51,"x":74.7,"y":19.92},{"g":51,"x":81.4,"y":20},{"g":51,"x":88.1,"y":20.12},{"g":51,"x":94.8,"y":20.18},{"g":51,"x":100,"y":20.15},
{"g":52,"x":1,"y":20},{"g":52,"x":7.7,"y":20.10},{"g":52,"x":14.4,"y":20.15},{"g":52,"x":21.1,"y":20.10},{"g":52,"x":27.8,"y":20},{"g":52,"x":34.5,"y":19.91},{"g":52,"x":41.2,"y":19.86},{"g":52,"x":47.9,"y":19.90},{"g":52,"x":54.6,"y":20},{"g":52,"x":61.3,"y":20.10},{"g":52,"x":68,"y":20.15},{"g":52,"x":74.7,"y":20.10},{"g":52,"x":81.4,"y":20},{"g":52,"x":88.1,"y":19.91},{"g":52,"x":94.8,"y":19.86},{"g":52,"x":100,"y":19.89},
{"g":53,"x":1,"y":20},{"g":53,"x":7.7,"y":19.80},{"g":53,"x":14.4,"y":19.70},{"g":53,"x":21.1,"y":19.78},{"g":53,"x":27.8,"y":20},{"g":53,"x":34.5,"y":20.22},{"g":53,"x":41.2,"y":20.33},{"g":53,"x":47.9,"y":20.24},{"g":53,"x":54.6,"y":20},{"g":53,"x":61.3,"y":19.80},{"g":53,"x":68,"y":19.70},{"g":53,"x":74.7,"y":19.78},{"g":53,"x":81.4,"y":20},{"g":53,"x":88.1,"y":20.22},{"g":53,"x":94.8,"y":20.33},{"g":53,"x":100,"y":20.27},
{"g":69,"x":1,"y":20},{"g":69,"x":7.7,"y":19.88},{"g":69,"x":14.4,"y":19.95},{"g":69,"x":21.1,"y":19.90},{"g":69,"x":27.8,"y":20},{"g":69,"x":34.5,"y":20.14},{"g":69,"x":41.2,"y":20.06},{"g":69,"x":47.9,"y":20.10},{"g":69,"x":54.6,"y":20},{"g":69,"x":61.3,"y":19.88},{"g":69,"x":68,"y":19.95},{"g":69,"x":74.7,"y":19.90},{"g":69,"x":81.4,"y":20},{"g":69,"x":88.1,"y":20.14},{"g":69,"x":94.8,"y":20.06},{"g":69,"x":100,"y":20.08},
{"g":71,"x":1,"y":20},{"g":71,"x":7.7,"y":20.15},{"g":71,"x":14.4,"y":20.20},{"g":71,"x":21.1,"y":20.06},{"g":71,"x":27.8,"y":20},{"g":71,"x":34.5,"y":19.96},{"g":71,"x":41.2,"y":19.84},{"g":71,"x":47.9,"y":19.82},{"g":71,"x":54.6,"y":20},{"g":71,"x":61.3,"y":20.15},{"g":71,"x":68,"y":20.20},{"g":71,"x":74.7,"y":20.06},{"g":71,"x":81.4,"y":20},{"g":71,"x":88.1,"y":19.96},{"g":71,"x":94.8,"y":19.84},{"g":71,"x":100,"y":19.83}
]},
"layer":[
{"mark":{"type":"line","interpolate":"natural","strokeWidth":2},
 "encoding":{
  "x":{"field":"x","type":"quantitative","scale":{"domain":[-3.69,102.2],"nice":false,"zero":false},"axis":{"orient":"bottom","grid":true,"values":[0,25,50,75,100],"format":"d","title":"number of steps","titlePadding":14}},
  "y":{"field":"y","type":"quantitative","scale":{"domain":[19.155,20.866],"nice":false,"zero":false},"axis":{"orient":"left","grid":true,"values":[19.5,20,20.5],"format":".1f","title":"mu_t","titlePadding":24,"labelPadding":3}},
  "color":{"field":"g","type":"nominal","legend":null,"scale":{"domain":[1,2,3,4,5,6,7,8,9,10,11,12,13,14,15,16,17,18,19,20,21,22,23,24,25,26,27,28,29,30,31,32,33,34,35,36,37,38,39,40,41,42,43,44,45,46,47,48,49,50,51,52,53,54,55,56,57,58,59,60,61,62,63,64,65,66,67,68,69,70,71],
   "range":["#F8766D","#F8766D","#F8766D","#F8766D","#F8766D","#E8853A","#E8853A","#D89000","#D89000","#D89000","#D89000","#D89000","#A3A500","#A3A500","#A3A500","#A3A500","#A3A500","#00B86B","#00B86B","#00B86B","#00B86B","#00B86B","#00B86B","#00BF9A","#00BF9A","#00BF9A","#00BF9A","#00BCD6","#00BCD6","#00BCD6","#00BCD6","#00BCD6","#00BCD6","#00A9FF","#00A9FF","#00A9FF","#00A9FF","#00A9FF","#A98BFF","#A98BFF","#A98BFF","#A98BFF","#E76BF3","#E76BF3","#E76BF3","#E76BF3","#FF62BC","#FF62BC","#FF62BC","#FF62BC","#FF62BC","#FF62BC","#FF62BC","#F8766D","#D89000","#A3A500","#A3A500","#00B86B","#00B86B","#00BF9A","#00BF9A","#00BCD6","#00BCD6","#00A9FF","#00A9FF","#A98BFF","#A98BFF","#E76BF3","#FF62BC","#F8766D","#FF62BC"]}}}},
{"mark":{"type":"point","opacity":0},
 "encoding":{
  "x":{"field":"x","type":"quantitative","scale":{"domain":[-3.69,102.2],"nice":false,"zero":false},"axis":{"orient":"top","values":[12.5,37.5,62.5,87.5],"grid":true,"gridWidth":0.7,"labels":false,"ticks":false,"domain":false,"title":null}},
  "y":{"field":"y","type":"quantitative","scale":{"domain":[19.155,20.866],"nice":false,"zero":false},"axis":{"orient":"right","values":[19.25,19.75,20.25,20.75],"grid":true,"gridWidth":0.7,"labels":false,"ticks":false,"domain":false,"title":null}}}}
],
"resolve":{"axis":{"x":"independent","y":"independent"}}
}
